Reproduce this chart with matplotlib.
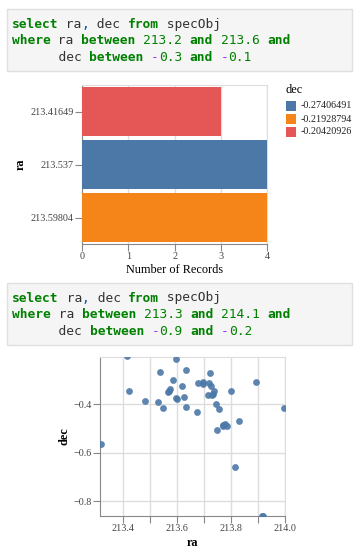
import matplotlib
matplotlib.use("Agg")
import matplotlib.pyplot as plt
from matplotlib.patches import Rectangle

W, H = 358, 552
DPI = 100

# ---------------- data ----------------
bar_ra = ["213.41649", "213.537", "213.59804"]
bar_dec = ["-0.20420926", "-0.27406491", "-0.21928794"]
bar_counts = [3, 4, 4]
legend_order = ["-0.27406491", "-0.21928794", "-0.20420926"]
dec_colors = {"-0.27406491": "#4c78a8", "-0.21928794": "#f58518", "-0.20420926": "#e45756"}

scatter_ra = [213.414, 213.595, 213.535, 213.633, 213.422, 213.585, 213.617, 213.564,
              213.573, 213.568, 213.480, 213.528, 213.547, 213.596, 213.600, 213.625,
              213.633, 213.672, 213.675, 213.694, 213.696, 213.717, 213.723, 213.725,
              213.737, 213.730, 213.712, 213.733, 213.892, 213.799, 213.743, 213.755,
              213.746, 213.771, 213.777, 213.783, 213.768, 213.827, 213.815, 213.914,
              213.919, 213.997, 213.316]
scatter_dec = [-0.200, -0.213, -0.268, -0.256, -0.346, -0.298, -0.325, -0.347,
               -0.338, -0.343, -0.385, -0.392, -0.415, -0.372, -0.380, -0.368,
               -0.410, -0.430, -0.310, -0.307, -0.317, -0.310, -0.269, -0.324,
               -0.343, -0.360, -0.363, -0.357, -0.306, -0.343, -0.399, -0.421,
               -0.508, -0.486, -0.482, -0.490, -0.488, -0.468, -0.660, -0.861,
               -0.860, -0.417, -0.565]

query1 = [
    [("select", "kw"), (" ra", "nm"), (",", "pu"), (" dec ", "nm"), ("from", "kw"), (" specObj", "nm")],
    [("where", "kw"), (" ra ", "nm"), ("between", "kw"), (" ", "nm"), ("213.2", "num"), (" ", "nm"),
     ("and", "kw"), (" ", "nm"), ("213.6", "num"), (" ", "nm"), ("and", "kw")],
    [("      dec ", "nm"), ("between", "kw"), (" ", "nm"), ("-", "op"), ("0.3", "num"), (" ", "nm"),
     ("and", "kw"), (" ", "nm"), ("-", "op"), ("0.1", "num")],
]
query2 = [
    [("select", "kw"), (" ra", "nm"), (",", "pu"), (" dec ", "nm"), ("from", "kw"), (" specObj", "nm")],
    [("where", "kw"), (" ra ", "nm"), ("between", "kw"), (" ", "nm"), ("213.3", "num"), (" ", "nm"),
     ("and", "kw"), (" ", "nm"), ("214.1", "num"), (" ", "nm"), ("and", "kw")],
    [("      dec ", "nm"), ("between", "kw"), (" ", "nm"), ("-", "op"), ("0.9", "num"), (" ", "nm"),
     ("and", "kw"), (" ", "nm"), ("-", "op"), ("0.2", "num")],
]

# ---------------- helpers ----------------
def fx(x):
    return x / W

def fy(y):
    return 1 - y / H

def axes_rect(l, t, r, b):
    return [fx(l), fy(b), (r - l) / W, (b - t) / H]

styles = {
    "kw": dict(color="#008000", weight="bold"),
    "nm": dict(color="#333333", weight="normal"),
    "pu": dict(color="#0055aa", weight="normal"),
    "num": dict(color="#008000", weight="normal"),
    "op": dict(color="#aa22ff", weight="normal"),
}

CODE_FS = 9.25
CHAR_W = 0.602 * CODE_FS * DPI / 72.0

fig = plt.figure(figsize=(W / DPI, H / DPI), dpi=DPI)

def code_box(top, bottom, lines, x0, baselines):
    fig.add_artist(Rectangle((fx(7), fy(bottom)), (352 - 7) / W, (bottom - top) / H,
                             transform=fig.transFigure, facecolor="#f5f5f5",
                             edgecolor="#e0e0e0", linewidth=1.0))
    for line, base in zip(lines, baselines):
        col = 0
        for tok, st in line:
            fig.text(fx(x0 + col * CHAR_W), fy(base), tok, family="DejaVu Sans Mono",
                     fontsize=CODE_FS, va="baseline", ha="left", **styles[st])
            col += len(tok)

code_box(9, 71, query1, 11.7, [27.7, 44.5, 61.3])
code_box(283, 345, query2, 12.3, [301.5, 318.3, 335.3])

SERIF = "Liberation Serif"
LBL_FS = 7.25
TTL_FS = 8.8
GRID = "#dddddd"
DOM = "#888888"

# ---------------- bar chart ----------------
ax1 = fig.add_axes(axes_rect(82, 85, 267.3, 244))
ypos = list(range(len(bar_ra)))
for yi, cnt, dc in zip(ypos, bar_counts, bar_dec):
    ax1.barh(yi, cnt, height=0.91, color=dec_colors[dc], zorder=3)
ax1.set_ylim(len(bar_ra) - 0.5, -0.5)
ax1.set_xlim(0, 4)
ax1.set_xticks([0, 1, 2, 3, 4])
ax1.set_yticks(ypos)
ax1.set_yticklabels(bar_ra)
ax1.grid(axis="x", color=GRID, linewidth=1, zorder=0)
ax1.set_axisbelow(True)
for s in ["top", "right"]:
    ax1.spines[s].set_color(GRID)
for s in ["left", "bottom"]:
    ax1.spines[s].set_color(DOM)
ax1.tick_params(length=5, color=DOM, labelsize=LBL_FS, labelcolor="#444444", pad=1)
for lab in ax1.get_xticklabels() + ax1.get_yticklabels():
    lab.set_family(SERIF)
ax1.set_xlabel("Number of Records", family=SERIF, fontsize=TTL_FS, labelpad=2)
ax1.set_ylabel("ra", family=SERIF, fontsize=TTL_FS, weight="bold", labelpad=3)

# legend (manual)
fig.text(fx(285), fy(93), "dec", family=SERIF, fontsize=TTL_FS, va="baseline")
for i, dc in enumerate(legend_order):
    top = 101 + i * 13
    fig.add_artist(Rectangle((fx(286), fy(top + 10)), 10 / W, 10 / H, transform=fig.transFigure,
                             facecolor=dec_colors[dc], edgecolor="none"))
    fig.text(fx(300.5), fy(top + 5), dc, family=SERIF, fontsize=LBL_FS, va="center",
             color="#222222")

# ---------------- scatter ----------------
ax2 = fig.add_axes(axes_rect(100.3, 356.7, 285.3, 516))
ax2.scatter(scatter_ra, scatter_dec, s=24, color="#4c78a8", alpha=0.9, linewidths=0, zorder=3)
ax2.set_xlim(213.315, 214.0)
ax2.set_ylim(-0.862, -0.203)
xt = [213.4, 213.5, 213.6, 213.7, 213.8, 213.9, 214.0]
ax2.set_xticks(xt)
ax2.set_xticklabels(["213.4", "", "213.6", "", "213.8", "", "214.0"])
ax2.set_yticks([-0.8, -0.6, -0.4])
ax2.set_yticklabels(["\u22120.8", "\u22120.6", "\u22120.4"])
ax2.grid(color=GRID, linewidth=1, zorder=0)
ax2.set_axisbelow(True)
for s in ["top", "right"]:
    ax2.spines[s].set_color(GRID)
for s in ["left", "bottom"]:
    ax2.spines[s].set_color(DOM)
ax2.tick_params(length=5, color=DOM, labelsize=LBL_FS, labelcolor="#444444", pad=1)
for lab in ax2.get_xticklabels() + ax2.get_yticklabels():
    lab.set_family(SERIF)
ax2.set_xlabel("ra", family=SERIF, fontsize=TTL_FS, weight="bold", labelpad=3)
ax2.set_ylabel("dec", family=SERIF, fontsize=TTL_FS, weight="bold", labelpad=2)

fig.savefig("out.png", dpi=DPI)
